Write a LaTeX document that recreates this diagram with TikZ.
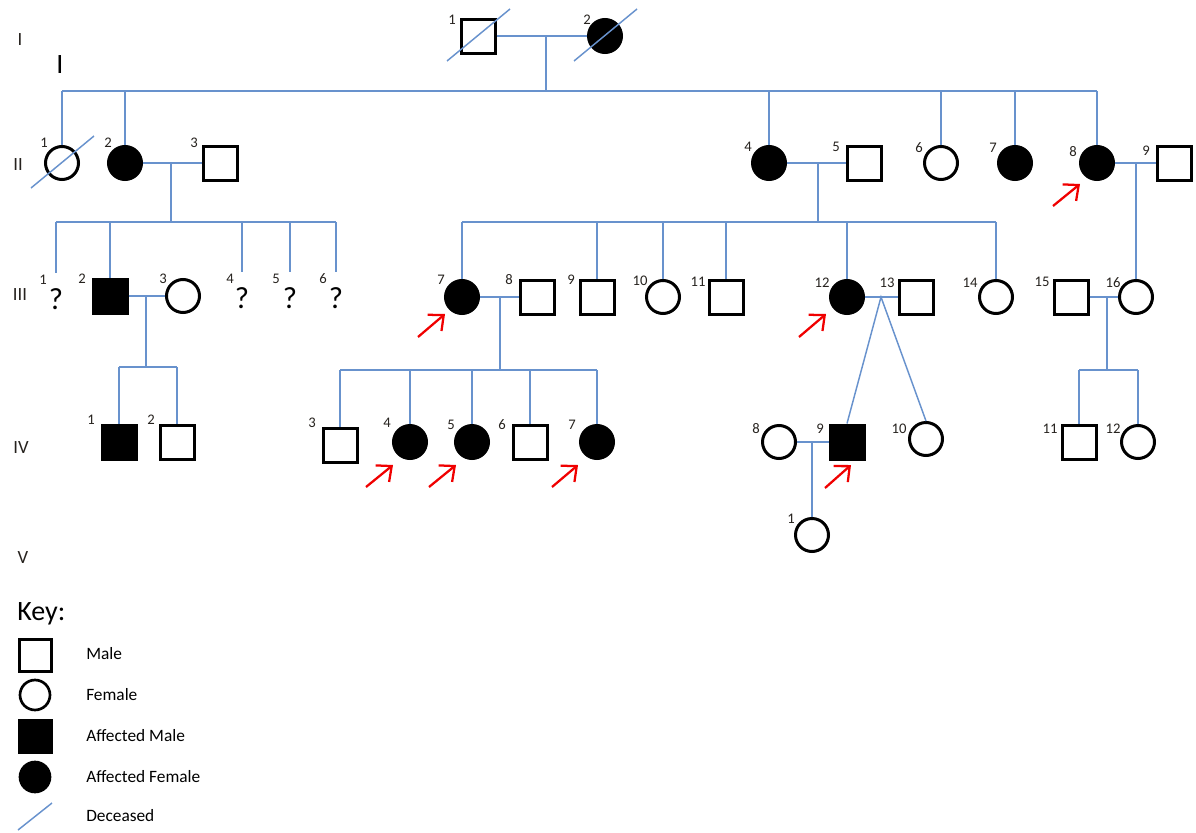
\documentclass[tikz,border=0pt]{standalone}
\usepackage{fontspec}
\setmainfont{Carlito}
\usetikzlibrary{arrows.meta}
\definecolor{linkblue}{RGB}{104,146,205}
\definecolor{numcol}{RGB}{38,34,30}
\definecolor{arrred}{RGB}{240,0,0}

\begin{document}
\begin{tikzpicture}[x=0.75pt,y=-0.75pt,
  person/.style={draw=black,line width=2.25pt,inner sep=0pt,fill=white},
  male/.style={person,rectangle,minimum size=25.5pt},
  female/.style={person,circle,minimum size=24.75pt},
  aff/.style={fill=black},
  conn/.style={draw=linkblue,line width=1.1pt},
  dec/.style={draw=linkblue,line width=1.1pt},
  proband/.style={draw=arrred,line width=1.7pt,-{Straight Barb[length=9pt,width=16pt]}},
  num/.style={text=numcol,font=\fontsize{11}{13}\selectfont,inner sep=0pt},
  unk/.style={text=black,font=\fontsize{23}{25}\selectfont,inner sep=0pt,minimum height=39pt},
  gen/.style={text=numcol,font=\fontsize{14}{16}\selectfont,inner sep=0pt,anchor=base},
  keytext/.style={text=black,anchor=base west,font=\fontsize{13}{15}\selectfont,inner sep=0pt}]

\useasboundingbox (0,0) rectangle (1196,832);

% generation labels
\node[gen] (gI) at (20,45) {I};
\node[gen,font=\fontsize{21}{24}\selectfont,text=black] (gIb) at (60,73) {I};
\node[gen] (gII) at (18,170) {II};
\node[gen] (gIII) at (20,300) {III};
\node[gen] (gIV) at (21,453) {IV};
\node[gen] (gV) at (23,563) {V};

% generation I
\node[male] (I1) at (478,36) {};
\node[female,aff] (I2) at (605,36) {};

% generation II
\node[female] (II1) at (62,163) {};
\node[female,aff] (II2) at (125,163) {};
\node[male] (II3) at (220,163) {};
\node[female,aff] (II4) at (769,163) {};
\node[male] (II5) at (864,163) {};
\node[female] (II6) at (941,163) {};
\node[female,aff] (II7) at (1015,163) {};
\node[female,aff] (II8) at (1097,163) {};
\node[male] (II9) at (1174,163) {};

% generation III
\node[unk] (III1) at (56,299) {?};
\node[male,aff] (III2) at (110,296) {};
\node[female] (III3) at (183,296) {};
\node[unk] (III4) at (242,298) {?};
\node[unk] (III5) at (290,298) {?};
\node[unk] (III6) at (336,298) {?};
\node[female,aff] (III7) at (462,297) {};
\node[male] (III8) at (537,297) {};
\node[male] (III9) at (597,297) {};
\node[female] (III10) at (663,297) {};
\node[male] (III11) at (726,297) {};
\node[female,aff] (III12) at (847,297) {};
\node[male] (III13) at (916,297) {};
\node[female] (III14) at (996,297) {};
\node[male] (III15) at (1071,297) {};
\node[female] (III16) at (1136,297) {};

% generation IV
\node[male,aff] (IV1) at (119,442) {};
\node[male] (IV2) at (177,442) {};
\node[male] (IV3) at (340,445) {};
\node[female,aff] (IV4) at (410,442) {};
\node[female,aff] (IV5) at (472,442) {};
\node[male] (IV6) at (530,442) {};
\node[female,aff] (IV7) at (597,442) {};
\node[female] (IV8) at (779,442) {};
\node[male,aff] (IV9) at (847,442) {};
\node[female] (IV10) at (926,439) {};
\node[male] (IV11) at (1079,442) {};
\node[female] (IV12) at (1138,442) {};

% generation V
\node[female] (V1) at (812,535) {};

% couple I-1 x I-2 and their children
\coordinate (mI) at (546,36);
\coordinate (sI) at (546,91);
\draw[conn] (I1) -- (I2);
\draw[conn] (mI) -- (sI);
\draw[conn] (II1.north |- sI) -- (II8.north |- sI);
\foreach \c in {II1,II2,II4,II6,II7,II8} \draw[conn] (\c.north |- sI) -- (\c.north);

% couple II-2 x II-3
\coordinate (mA) at (171,163);
\coordinate (sA) at (171,222);
\draw[conn] (II2) -- (II3);
\draw[conn] (mA) -- (sA);
\draw[conn] (III1.north |- sA) -- (III6.north |- sA);
\foreach \c in {III1,III2,III4,III5,III6} \draw[conn] (\c.north |- sA) -- (\c.north);

% couple II-4 x II-5
\coordinate (mB) at (818,163);
\coordinate (sB) at (818,222);
\draw[conn] (II4) -- (II5);
\draw[conn] (mB) -- (sB);
\draw[conn] (III7.north |- sB) -- (III14.north |- sB);
\foreach \c in {III7,III9,III10,III11,III12,III14} \draw[conn] (\c.north |- sB) -- (\c.north);

% couple II-8 x II-9
\coordinate (mC) at (1136,163);
\draw[conn] (II8) -- (II9);
\draw[conn] (mC) -- (III16.north);

% couple III-2 x III-3
\coordinate (mD) at (146,296);
\coordinate (sD) at (146,367);
\draw[conn] (III2) -- (III3);
\draw[conn] (mD) -- (sD);
\draw[conn] (IV1.north |- sD) -- (IV2.north |- sD);
\foreach \c in {IV1,IV2} \draw[conn] (\c.north |- sD) -- (\c.north);

% couple III-7 x III-8
\coordinate (mE) at (500,297);
\coordinate (sE) at (500,370);
\draw[conn] (III7) -- (III8);
\draw[conn] (mE) -- (sE);
\draw[conn] (IV3.north |- sE) -- (IV7.north |- sE);
\foreach \c in {IV3,IV4,IV5,IV6,IV7} \draw[conn] (\c.north |- sE) -- (\c.north);

% couple III-12 x III-13 with twins
\coordinate (tw) at (881,297);
\draw[conn] (III12) -- (III13);
\draw[conn] (IV9.north) -- (tw) -- (IV10.north);

% couple III-15 x III-16
\coordinate (mF) at (1107,297);
\coordinate (sF) at (1107,370);
\draw[conn] (III15) -- (III16);
\draw[conn] (mF) -- (sF);
\draw[conn] (IV11.north |- sF) -- (IV12.north |- sF);
\foreach \c in {IV11,IV12} \draw[conn] (\c.north |- sF) -- (\c.north);

% couple IV-8 x IV-9
\coordinate (mG) at (812,442);
\draw[conn] (IV8) -- (IV9);
\draw[conn] (mG) -- (V1.north);

% deceased marks
\foreach \c in {I1,I2,II1}
  \draw[dec] ([shift={(-31,25)}]\c.center) -- ([shift={(32,-27)}]\c.center);

% proband arrows
\draw[proband] ([shift={(-44,43)}]II8.center) -- ([shift={(-17,21)}]II8.center);
\draw[proband] ([shift={(-44,40)}]III7.center) -- ([shift={(-17,17)}]III7.center);
\draw[proband] ([shift={(-48,40)}]III12.center) -- ([shift={(-21,17)}]III12.center);
\draw[proband] ([shift={(-44,45)}]IV4.center) -- ([shift={(-17,23)}]IV4.center);
\draw[proband] ([shift={(-43,45)}]IV5.center) -- ([shift={(-16,23)}]IV5.center);
\draw[proband] ([shift={(-45,45)}]IV7.center) -- ([shift={(-19,23)}]IV7.center);
\draw[proband] ([shift={(-22,46)}]IV9.center) -- ([shift={(4,23)}]IV9.center);

% individual numbers
\foreach \n/\t/\x/\y in {
  a/1/452/20, b/2/587/20,
  c/1/44/143, d/2/108/143, e/3/194/143, f/4/748/147, g/5/836/147,
  h/6/919/148, i/7/993/148, j/8/1073/152, k/9/1146/151,
  l/1/43/280, m/2/82/279, n/3/163/279, o/4/230/279, p/5/276/279, q/6/323/279,
  r/7/441/280, s/8/509/280, t/9/571/280, u/10/640/281, v/11/698/282,
  w/12/822/283, x/13/887/283, y/14/970/283, z/15/1042/282, aa/16/1113/283,
  ab/1/91/420, ac/2/151/420, ad/3/312/423, ae/4/387/423, af/5/451/425,
  ag/6/502/425, ah/7/572/425, ai/8/756/429, aj/9/820/429, ak/10/899/429,
  al/11/1050/429, am/12/1113/429, an/1/791/519}
  \node[num] (lab\n) at (\x,\y) {\t};

% key
\node[anchor=base west,inner sep=0pt,font=\fontsize{21}{24}\selectfont] (keyhead) at (17,620) {Key:};
\node[male,minimum size=24pt,line width=2pt] (kM) at (35.5,655.5) {};
\node[female,minimum size=22.5pt,line width=2pt] (kF) at (35,695) {};
\node[male,aff,minimum size=24pt,line width=2pt] (kAM) at (35.5,736.5) {};
\node[female,aff,minimum size=22.5pt,line width=2pt] (kAF) at (35,777) {};
\coordinate (kD1) at (18,830);
\coordinate (kD2) at (52,803);
\draw[dec] (kD1) -- (kD2);
\node[keytext] (tM) at (86,659) {Male};
\node[keytext] (tF) at (86,700) {Female};
\node[keytext] (tAM) at (86,741) {Affected Male};
\node[keytext] (tAF) at (86,782) {Affected Female};
\node[keytext] (tD) at (86,821) {Deceased};
\end{tikzpicture}
\end{document}
